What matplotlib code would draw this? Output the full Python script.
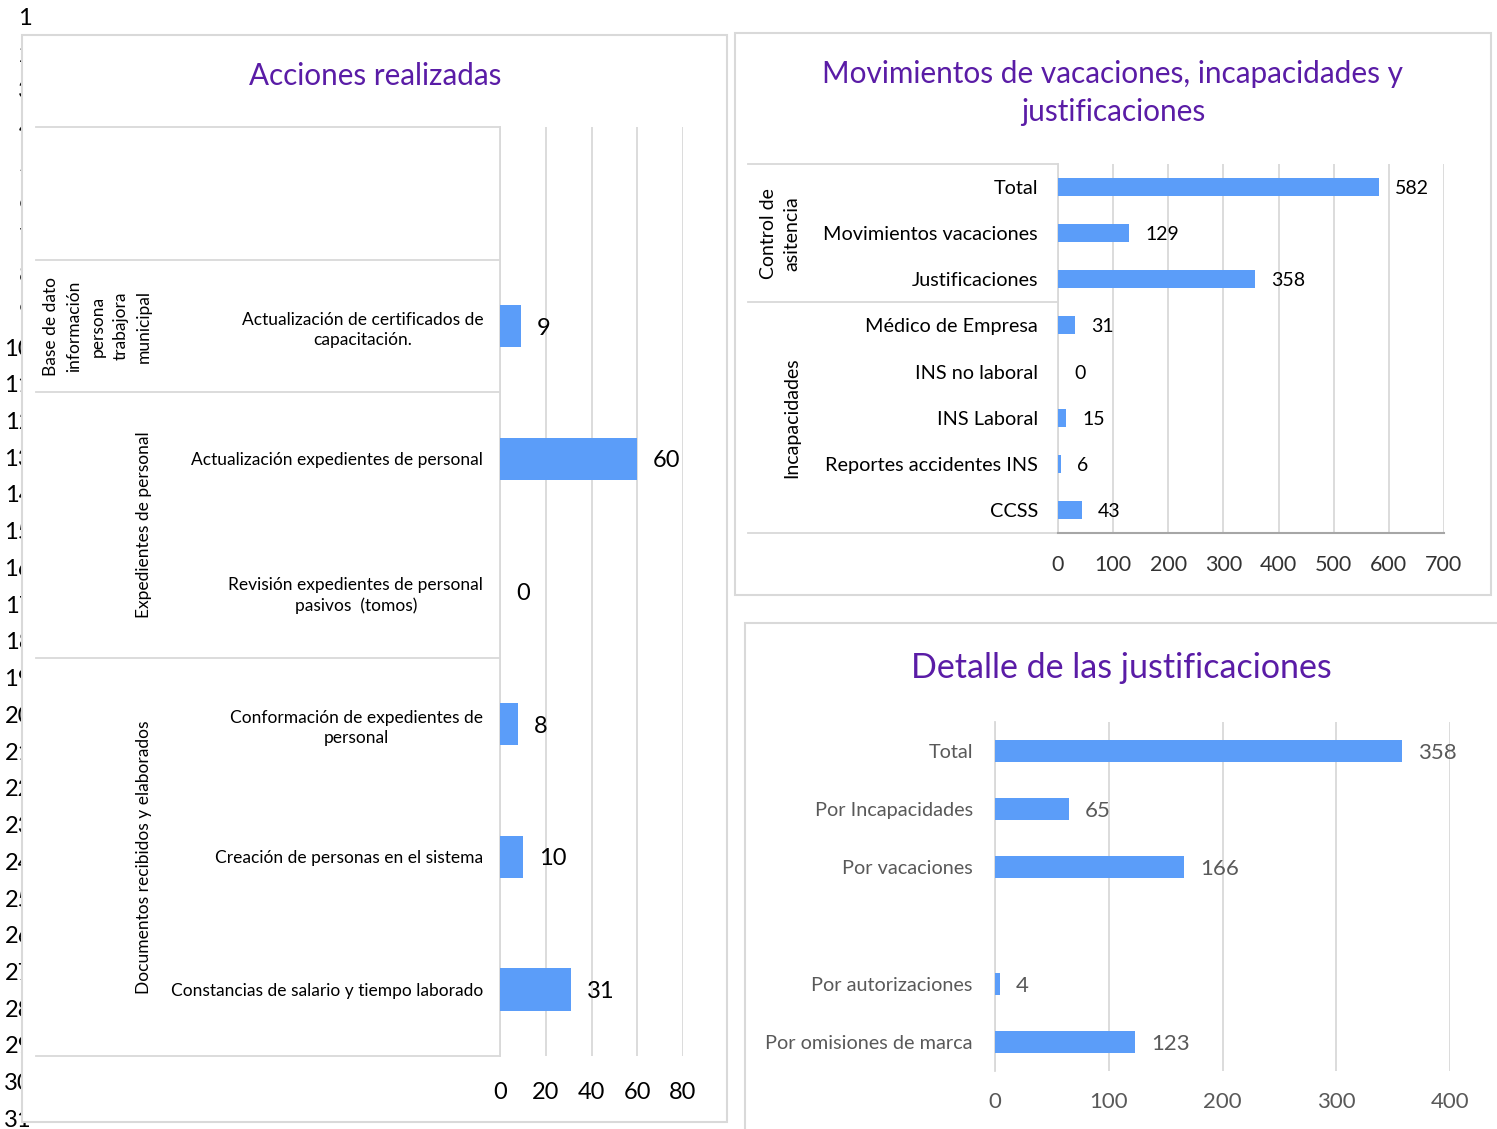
import numpy as np
import matplotlib.pyplot as plt
from matplotlib.patches import Rectangle

plt.rcParams['font.family'] = ['Lato', 'DejaVu Sans']

W, H = 1497, 1129
AZUL = '#5B9DF9'
GRIS = '#D9D9D9'
MORADO = '#5A1CA6'

# Acciones realizadas
acciones_cat = ["",
                "Actualización de certificados de\ncapacitación.",
                "Actualización expedientes de personal",
                "Revisión expedientes de personal\npasivos  (tomos)",
                "Conformación de expedientes de\npersonal",
                "Creación de personas en el sistema",
                "Constancias de salario y tiempo laborado"]
acciones_val = [np.nan, 9, 60, 0, 8, 10, 31]
acciones_grupos = ["", "Base de dato\ninformación\npersona\ntrabajora\nmunicipal",
                   "Expedientes de personal", "Documentos recibidos y elaborados"]
acciones_tam = [1, 1, 2, 3]

# Movimientos de vacaciones, incapacidades y justificaciones
mov_cat = ["Total", "Movimientos vacaciones", "Justificaciones", "Médico de Empresa",
           "INS no laboral", "INS Laboral", "Reportes accidentes INS", "CCSS"]
mov_val = [582, 129, 358, 31, 0, 15, 6, 43]
mov_grupos = ["Control de\nasitencia", "Incapacidades"]
mov_tam = [3, 5]

# Detalle de las justificaciones
just_cat = ["Total", "Por Incapacidades", "Por vacaciones", "",
            "Por autorizaciones", "Por omisiones de marca"]
just_val = [358, 65, 166, np.nan, 4, 123]

filas = list(range(1, 32))


def caja(x0, y0, x1, y1):
    """Convierte pixeles (arriba-izquierda) a coordenadas de figura"""
    return [x0 / W, 1 - y1 / H, (x1 - x0) / W, (y1 - y0) / H]


def marco(fig, x0, y0, x1, y1):
    r = caja(x0, y0, x1, y1)
    fig.add_artist(Rectangle((r[0], r[1]), r[2], r[3], transform=fig.transFigure,
                             facecolor='white', edgecolor=GRIS, lw=1.5, zorder=1))


def panel(ax, cats, vals, xmax, paso, alto, color_txt, fs_cat, fs_val, fs_tick,
          pad_cat, pad_tick, espacio=1.2):
    y = np.arange(len(cats))
    vals = np.array(vals, dtype=float)
    ok = ~np.isnan(vals) & (vals > 0)
    ax.barh(y[ok], vals[ok], height=alto, color=AZUL, lw=0, zorder=3)
    ax.set_ylim(len(cats) - 0.5, -0.5)
    ax.set_xlim(0, xmax)
    ax.set_xticks(np.arange(0, xmax + 1, paso))
    ax.set_yticks(y)
    ax.set_yticklabels(cats)
    for t in ax.get_yticklabels():
        t.set_multialignment('center')
        t.set_linespacing(espacio)
    ax.tick_params(axis='y', length=0, pad=pad_cat, labelsize=fs_cat, labelcolor=color_txt)
    ax.tick_params(axis='x', length=0, pad=pad_tick, labelsize=fs_tick, labelcolor=color_txt)
    ax.grid(axis='x', color=GRIS, lw=1.3)
    ax.set_axisbelow(True)
    ax.patch.set_alpha(0)
    for s in ['top', 'right', 'bottom']:
        ax.spines[s].set_visible(False)
    ax.spines['left'].set_color(GRIS)
    ax.spines['left'].set_linewidth(1.3)
    # Etiquetas de valor
    for yi, v in zip(y, vals):
        if np.isnan(v):
            continue
        ax.annotate(f"{v:g}", (v, yi), xytext=(11.5, 0), textcoords='offset points',
                    va='center_baseline', ha='left', fontsize=fs_val, color=color_txt)


def tabla(ax, tam, grupos, x_izq, x_grp, fs, espacio):
    """Líneas de la tabla de categorías y etiquetas de grupo"""
    tr = ax.get_yaxis_transform()
    lim = np.concatenate([[0], np.cumsum(tam)]) - 0.5
    for b in lim:
        ax.plot([x_izq, 0], [b, b], transform=tr, clip_on=False, color=GRIS, lw=1.3)
    for g, a, b in zip(grupos, lim[:-1], lim[1:]):
        if g:
            ax.text(x_grp, (a + b) / 2, g, transform=tr, rotation=90, ha='right',
                    va='center', multialignment='center', fontsize=fs, linespacing=espacio)


fig = plt.figure(figsize=(W / 100, H / 100), dpi=100)

# Números de fila de la hoja de cálculo (detrás de los gráficos)
for i, n in enumerate(filas):
    fig.text(32 / W, 1 - (18.5 + 36.73 * i) / H, str(n), ha='right', va='center',
             fontsize=17, zorder=0)

marco(fig, 22, 35, 727, 1122)
marco(fig, 735, 33, 1491, 595)
marco(fig, 745, 623, 1520, 1150)

# Gráfico 1
ax1 = fig.add_axes(caja(500, 127, 683, 1056), zorder=2)
panel(ax1, acciones_cat, acciones_val, 80, 20, 0.32, 'black', 12.5, 17, 17, 12, 18.5, 1.35)
tabla(ax1, acciones_tam, acciones_grupos, (36 - 500) / 183, (152 - 500) / 183, 12.5, 1.55)
fig.text(375 / W, 1 - 76 / H, "Acciones realizadas", ha='center', va='center',
         fontsize=21.3, color=MORADO, zorder=3)

# Gráfico 2
ax2 = fig.add_axes(caja(1058, 164, 1444, 533), zorder=2)
panel(ax2, mov_cat, mov_val, 700, 100, 0.39, 'black', 14.3, 14, 15.5, 14.4, 16)
ax2.tick_params(axis='x', labelcolor='#333333')
ax2.spines['bottom'].set_visible(True)
ax2.spines['bottom'].set_color('#A6A6A6')
ax2.spines['bottom'].set_linewidth(1.5)
tabla(ax2, mov_tam, mov_grupos, (748 - 1058) / 386, (800 - 1058) / 386, 14, 1.45)
fig.text(1113 / W, 1 - 93 / H, "Movimientos de vacaciones, incapacidades y\njustificaciones",
         ha='center', va='center', fontsize=21.4, color=MORADO, linespacing=1.45, zorder=3)

# Gráfico 3
ax3 = fig.add_axes(caja(995, 722, 1450, 1071), zorder=2)
panel(ax3, just_cat, just_val, 400, 100, 0.38, '#595959', 14.3, 16, 16, 16, 15)
fig.text(1121 / W, 1 - 668 / H, "Detalle de las justificaciones", ha='center', va='center',
         fontsize=24.5, color=MORADO, zorder=3)

fig.savefig('out.png', dpi=100)
